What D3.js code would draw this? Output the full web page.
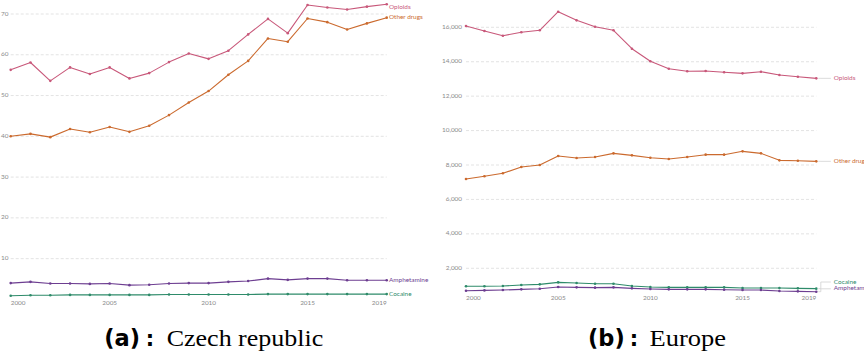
<!DOCTYPE html>
<html>
<head>
<meta charset="utf-8">
<script src="https://cdn.jsdelivr.net/npm/d3@7"></script>
<style>
  html, body { margin: 0; padding: 0; background: #fff; }
  svg { display: block; }
</style>
</head>
<body>
<svg id="chart" width="864" height="354"></svg>
<script>
// Years shared by both panels
const years = d3.range(2000, 2020);

// Czech republic: deaths by drug
const czOpioids     = [56.3, 58.1, 53.6, 56.9, 55.3, 56.9, 54.2, 55.5, 58.2, 60.3, 59.0, 61.0, 65.0, 68.8, 65.3, 72.2, 71.6, 71.1, 71.8, 72.4];
const czOtherDrugs  = [40.0, 40.6, 39.8, 41.8, 41.0, 42.3, 41.1, 42.6, 45.2, 48.3, 51.1, 55.1, 58.5, 64.0, 63.2, 68.9, 68.0, 66.2, 67.7, 69.1];
const czAmphetamine = [4.0, 4.3, 3.9, 3.9, 3.8, 3.9, 3.5, 3.6, 3.9, 4.0, 4.0, 4.3, 4.5, 5.1, 4.8, 5.1, 5.1, 4.7, 4.7, 4.7];
const czCocaine     = [0.9, 1.0, 1.0, 1.1, 1.1, 1.1, 1.1, 1.1, 1.2, 1.2, 1.2, 1.2, 1.2, 1.3, 1.3, 1.3, 1.3, 1.3, 1.3, 1.3];

// Europe: deaths by drug
const euOpioids     = [16075, 15785, 15510, 15710, 15825, 16905, 16405, 16035, 15825, 14755, 14025, 13595, 13445, 13460, 13385, 13325, 13420, 13230, 13130, 13035];
const euOtherDrugs  = [7186, 7343, 7517, 7884, 8000, 8523, 8406, 8464, 8677, 8561, 8425, 8348, 8464, 8600, 8600, 8794, 8677, 8270, 8250, 8213];
const euCocaine     = [953, 953, 970, 1028, 1067, 1183, 1144, 1105, 1105, 970, 912, 893, 893, 893, 893, 854, 854, 854, 835, 816];
const euAmphetamine = [697, 716, 736, 775, 813, 912, 893, 874, 893, 835, 795, 775, 775, 775, 755, 736, 736, 678, 658, 639];

// Axis ticks
const czTicks = [10, 20, 30, 40, 50, 60, 70];
const euTicks = [2000, 4000, 6000, 8000, 10000, 12000, 14000, 16000];
const xTickYears = [2000, 2005, 2010, 2015, 2019];

const colors = {
  "Opioids": "#C8587A",
  "Other drugs": "#CB6A2E",
  "Amphetamine": "#6D3E91",
  "Cocaine": "#2E8B6A"
};

const svg = d3.select("#chart");
const FONT = "Lato, 'Open Sans', sans-serif";

function drawPanel(cfg) {
  const g = svg.append("g");
  const x = d3.scaleLinear().domain([2000, 2019]).range(cfg.xRange);
  const y = d3.scaleLinear().domain(cfg.yDomain).range(cfg.yRange);

  // Horizontal gridlines
  g.selectAll("line.grid").data(cfg.yTicks).join("line")
    .attr("class", "grid")
    .attr("x1", cfg.xRange[0]).attr("x2", cfg.xRange[1])
    .attr("y1", d => y(d)).attr("y2", d => y(d))
    .attr("stroke", "#dcdcdc").attr("stroke-width", 0.8)
    .attr("stroke-dasharray", "3,2");

  // Y tick labels
  g.selectAll("text.ytick").data(cfg.yTicks).join("text")
    .attr("class", "ytick")
    .attr("x", cfg.yLabelX).attr("y", d => y(d))
    .attr("text-anchor", "end").attr("dominant-baseline", "middle")
    .attr("font-family", FONT).attr("font-size", cfg.tickSize)
    .attr("fill", "#8a8a8a")
    .text(d => cfg.yFormat(d));

  // X tick labels (first left-aligned, last right-aligned)
  g.selectAll("text.xtick").data(xTickYears).join("text")
    .attr("class", "xtick")
    .attr("x", d => x(d)).attr("y", cfg.xLabelY)
    .attr("text-anchor", (d, i) => i === 0 ? "start" : (i === xTickYears.length - 1 ? "end" : "middle"))
    .attr("dominant-baseline", "middle")
    .attr("font-family", FONT).attr("font-size", cfg.tickSize)
    .attr("fill", "#8a8a8a")
    .text(d => d);

  const line = d3.line().x((d, i) => x(years[i])).y(d => y(d));

  cfg.series.forEach(s => {
    g.append("path")
      .datum(s.values)
      .attr("d", line)
      .attr("fill", "none")
      .attr("stroke", colors[s.name])
      .attr("stroke-width", 1.1)
      .attr("stroke-linejoin", "round");
    g.selectAll(null).data(s.values).join("circle")
      .attr("cx", (d, i) => x(years[i])).attr("cy", d => y(d))
      .attr("r", 1.3)
      .attr("fill", colors[s.name]);
  });

  // End labels: start at series end, push apart to avoid overlap
  const labels = cfg.series.map(s => ({
    name: s.name,
    endY: y(s.values[s.values.length - 1]),
    ly: y(s.values[s.values.length - 1])
  })).sort((a, b) => a.endY - b.endY);
  for (let i = 0; i < labels.length; i++) {
    labels[i].ly = Math.max(labels[i].ly, cfg.labelTop);
    if (i > 0) labels[i].ly = Math.max(labels[i].ly, labels[i - 1].ly + cfg.labelGap);
  }
  for (let i = labels.length - 1; i >= 0; i--) {
    labels[i].ly = Math.min(labels[i].ly, cfg.labelBottom);
    if (i < labels.length - 1) labels[i].ly = Math.min(labels[i].ly, labels[i + 1].ly - cfg.labelGap);
  }

  const xEnd = x(2019);
  if (cfg.connectors) {
    labels.forEach(l => {
      const mid = xEnd + cfg.connectorMid;
      g.append("path")
        .attr("d", `M${xEnd + 2},${l.endY}H${mid}V${l.ly}H${xEnd + cfg.connectorEnd}`)
        .attr("fill", "none")
        .attr("stroke", "#d0d0d0")
        .attr("stroke-width", 0.8);
    });
  }
  g.selectAll("text.series").data(labels).join("text")
    .attr("class", "series")
    .attr("x", xEnd + cfg.labelDx).attr("y", d => d.ly)
    .attr("dominant-baseline", "middle")
    .attr("font-family", FONT).attr("font-size", cfg.labelSize)
    .attr("fill", d => colors[d.name])
    .text(d => d.name);
}

// Czech republic panel
drawPanel({
  xRange: [10.7, 386.7],
  yDomain: [0, 70],
  yRange: [299.4, 14],
  yTicks: czTicks,
  yFormat: d3.format("d"),
  yLabelX: 8.5,
  xLabelY: 303.5,
  tickSize: 6.4,
  labelSize: 6.4,
  labelDx: 2.3,
  labelTop: 7.5,
  labelBottom: 296,
  labelGap: 9,
  connectors: false,
  series: [
    { name: "Opioids", values: czOpioids },
    { name: "Other drugs", values: czOtherDrugs },
    { name: "Amphetamine", values: czAmphetamine },
    { name: "Cocaine", values: czCocaine }
  ]
});

// Europe panel
drawPanel({
  xRange: [466, 816.3],
  yDomain: [0, 16000],
  yRange: [302.7, 27.3],
  yTicks: euTicks,
  yFormat: d3.format(","),
  yLabelX: 462,
  xLabelY: 298.5,
  tickSize: 6.4,
  labelSize: 6.4,
  labelDx: 17.5,
  labelTop: 7.5,
  labelBottom: 288.8,
  labelGap: 6.8,
  connectors: true,
  connectorMid: 4.5,
  connectorEnd: 14.5,
  series: [
    { name: "Opioids", values: euOpioids },
    { name: "Other drugs", values: euOtherDrugs },
    { name: "Cocaine", values: euCocaine },
    { name: "Amphetamine", values: euAmphetamine }
  ]
});

// Sub-figure captions
function caption(tagX, tag, colonX, textX, textW, label) {
  const base = 346;
  svg.append("text")
    .attr("x", tagX).attr("y", base)
    .attr("font-family", "'DejaVu Sans', sans-serif").attr("font-weight", "bold")
    .attr("font-size", 22.5).attr("fill", "#000")
    .text(tag);
  svg.append("text")
    .attr("x", colonX).attr("y", base)
    .attr("text-anchor", "middle")
    .attr("font-family", "'DejaVu Sans', sans-serif").attr("font-weight", "bold")
    .attr("font-size", 21).attr("fill", "#000")
    .text(":");
  svg.append("text")
    .attr("x", textX).attr("y", base)
    .attr("font-family", "'Liberation Serif', serif")
    .attr("font-size", 23).attr("fill", "#000")
    .attr("textLength", textW).attr("lengthAdjust", "spacingAndGlyphs")
    .text(label);
}
caption(104.3, "(a)", 150, 166.7, 156.6, "Czech republic");
caption(588, "(b)", 634, 649.5, 76.5, "Europe");
</script>
</body>
</html>
